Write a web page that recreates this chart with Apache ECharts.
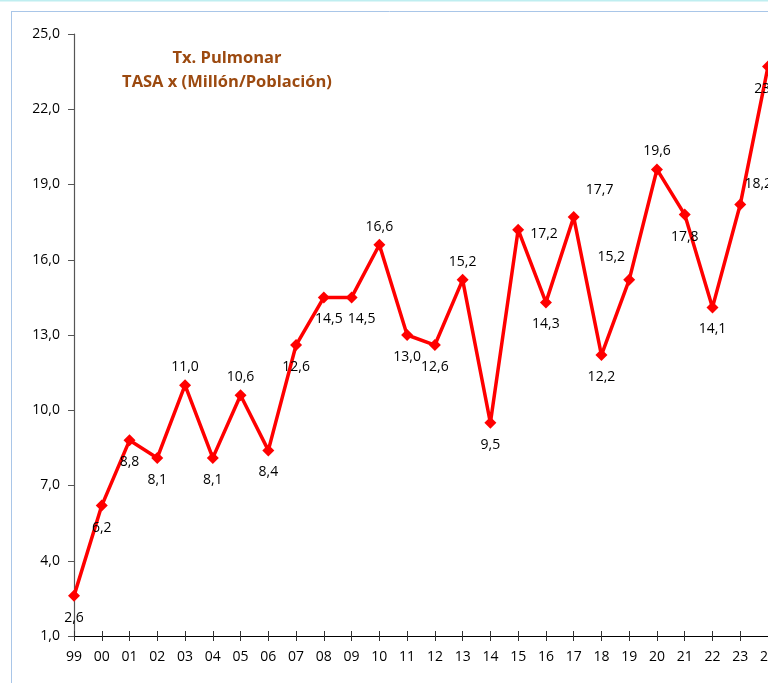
<!DOCTYPE html>
<html><head><meta charset="utf-8">
<script src="https://cdn.jsdelivr.net/npm/echarts@6/dist/echarts.min.js"></script>
<style>html,body{margin:0;padding:0;background:#fff}#c{width:768px;height:683px}</style>
</head><body><div id="c"></div>
<script>
const categories = ['99','00','01','02','03','04','05','06','07','08','09','10','11','12','13','14','15','16','17','18','19','20','21','22','23','24'];
const values = [2.6,6.2,8.8,8.1,11.0,8.1,10.6,8.4,12.6,14.5,14.5,16.6,13.0,12.6,15.2,9.5,17.2,14.3,17.7,12.2,15.2,19.6,17.8,14.1,18.2,23.7];
const yTicks = [1,4,7,10,13,16,19,22,25];
const titleLines = ['Tx. Pulmonar','TASA x (Millón/Población)'];

// label placement per point (style, not data)
const place = ['bottom','bottom','bottom','bottom','top','bottom','top','bottom','bottom','bottom','bottom','top','bottom','bottom','top','bottom','right','bottom','rightTop','bottom','leftTop','top','bottom','bottom','rightTop2','bottom'];
function lbl(p){
  const base = {show:true};
  if(p==='right') return Object.assign(base,{position:'right',distance:6,offset:[0,4]});
  if(p==='rightTop') return Object.assign(base,{position:'top',distance:6,offset:[26,-8]});
  if(p==='rightTop2') return Object.assign(base,{position:'top',distance:6,offset:[18,-2]});
  if(p==='leftTop') return Object.assign(base,{position:'top',distance:6,offset:[-18,-4]});
  if(p==='top') return Object.assign(base,{position:'top',distance:5});
  return Object.assign(base,{position:'bottom',distance:9});
}
const data = values.map((v,i)=>{
  const l = lbl(place[i]);
  if(i===9) l.offset=[5,0];
  if(i===10) l.offset=[10,0];
  return {value:v,label:l};
});
const fontFam = 'Open Sans, Lato, sans-serif';
const chart = echarts.init(document.getElementById('c'));
chart.setOption({
  animation:false,
  backgroundColor:'#fff',
  graphic:[
    {type:'line',shape:{x1:0,y1:0.5,x2:768,y2:0.5},style:{stroke:'#bfeef0',lineWidth:2}},
    {type:'line',shape:{x1:11,y1:11.5,x2:768,y2:11.5},style:{stroke:'#a9c6e8',lineWidth:1}},
    {type:'line',shape:{x1:11.5,y1:11,x2:11.5,y2:683},style:{stroke:'#a9c6e8',lineWidth:1}},
    {type:'text',x:227,y:46,style:{text:titleLines.join('\n'),fill:'#9c4a10',font:'bold 16.5px '+fontFam,align:'center',textAlign:'center',lineHeight:24}}
  ],
  grid:{left:74,right:0,top:34,bottom:47,containLabel:false,outerBoundsMode:'none'},
  xAxis:[{
    type:'category',data:categories,boundaryGap:false,
    axisLine:{lineStyle:{color:'#000',width:1.2}},
    axisTick:{show:true,length:5,lineStyle:{color:'#333'}},
    axisLabel:{color:'#000',fontSize:14,fontFamily:fontFam,margin:14,interval:0},
    splitLine:{show:false}
  },{
    type:'category',data:categories,boundaryGap:false,position:'bottom',
    axisLine:{show:false},
    axisTick:{show:true,inside:true,length:5,lineStyle:{color:'#333'}},
    axisLabel:{show:false}
  }],
  yAxis:{
    type:'value',min:yTicks[0],max:yTicks[yTicks.length-1],interval:3,
    axisLine:{show:true,lineStyle:{color:'#555',width:1.2}},
    axisTick:{show:true,length:6,lineStyle:{color:'#555'}},
    axisLabel:{color:'#000',fontSize:14,fontFamily:fontFam,margin:14,formatter:v=>v.toFixed(1).replace('.',',')},
    splitLine:{show:false}
  },
  series:[{
    type:'line',data:data,
    lineStyle:{color:'#ff0000',width:3.5},
    itemStyle:{color:'#ff0000'},
    symbol:'diamond',symbolSize:12,
    label:{color:'#000',fontSize:14,fontFamily:fontFam,formatter:p=>p.value.toFixed(1).replace('.',',')},
    clip:false
  }]
});
</script></body></html>
